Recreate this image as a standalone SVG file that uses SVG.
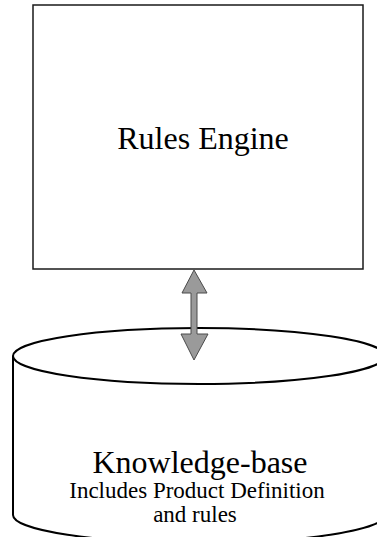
<svg xmlns="http://www.w3.org/2000/svg" width="377" height="537" viewBox="0 0 377 537">
<style>
  .bg { fill: #ffffff; }
  .box { fill: #ffffff; stroke: #1a1a1a; stroke-width: 1.5; }
  .cyl { fill: #ffffff; stroke: #000000; stroke-width: 2; }
  .t { font-family: "Liberation Serif", "Times New Roman", serif; fill: #000000; text-anchor: middle; }
  .arrow { fill: #9a9a9a; stroke: #4a4a4a; stroke-width: 1; }
</style>
<rect class="bg" x="0" y="0" width="377" height="537"/>
<g id="rules-engine">
  <rect class="box" x="33" y="5" width="330" height="264"/>
  <text class="t" x="203" y="149" font-size="32">Rules Engine</text>
</g>
<g id="knowledge-base">
  <path class="cyl" d="M13,356 L13,515 A186,28 0 0 0 385,515 L385,356"/>
  <ellipse class="cyl" cx="199" cy="356" rx="186" ry="28"/>
  <text class="t" x="200" y="473" font-size="32">Knowledge-base</text>
  <text class="t" x="197" y="498" font-size="23">Includes Product Definition</text>
  <text class="t" x="195" y="522" font-size="23">and rules</text>
</g>
<g id="connectors">
  <path class="arrow" d="M194,270 L207,293 L197,293 L197,334 L208,334 L194,360 L181,334 L191,334 L191,293 L182,293 Z"/>
</g>
</svg>
